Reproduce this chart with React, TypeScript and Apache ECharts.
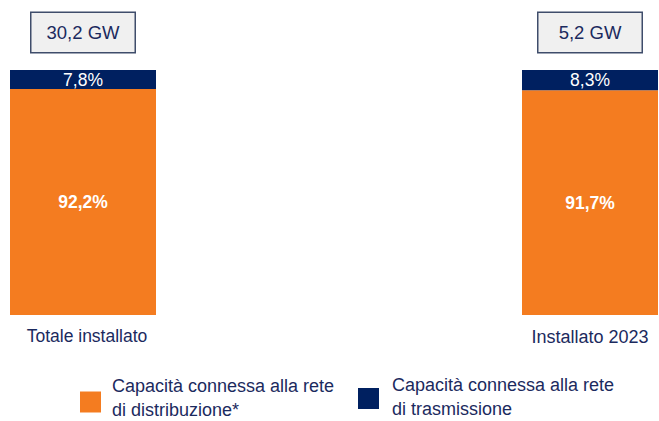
import React, { useEffect, useRef } from "react";
import * as echarts from "echarts";

const categories = ["Totale installato", "Installato 2023"];
const totals = ["30,2 GW", "5,2 GW"];
const distribuzione = [92.2, 91.7];
const trasmissione = [7.8, 8.3];
const seriesNames = [
  "Capacità connessa alla rete\ndi distribuzione*",
  "Capacità connessa alla rete\ndi trasmissione",
];

const ORANGE = "#F47C20";
const NAVY = "#002060";
const TEXT = "#1B2A5E";
const FONT = "'Liberation Sans', Arial, sans-serif";

const fmt = (v: number) => v.toFixed(1).replace(".", ",") + "%";

const legendFmt = (name: string) =>
  name
    .split("\n")
    .map((s) => `{a|${s}}`)
    .join("\n") + "\n{b| }";

export default function App() {
  const ref = useRef<HTMLDivElement>(null);
  useEffect(() => {
    if (!ref.current) return;
    const chart = echarts.init(ref.current, undefined, { renderer: "svg" });
    const grids = [
      { left: 10, width: 146, top: 70, height: 245 },
      { left: 522, width: 136, top: 70, height: 245 },
    ];
    const xAxis: any[] = [];
    const yAxis: any[] = [];
    const series: any[] = [];
    categories.forEach((cat, i) => {
      xAxis.push({
        type: "category",
        gridIndex: i,
        data: [cat],
        position: "bottom",
        axisLine: { show: false },
        axisTick: { show: false },
        axisLabel: {
          color: TEXT,
          fontSize: i === 0 ? 17.5 : 18,
          fontFamily: FONT,
          lineHeight: 20,
          margin: i === 0 ? 11 : 12,
          padding: i === 0 ? [0, 0, 0, 8] : 0,
        },
      });
      xAxis.push({
        type: "category",
        gridIndex: i,
        data: [totals[i]],
        position: "top",
        axisLine: { show: false },
        axisTick: { show: false },
        axisLabel: {
          color: TEXT,
          fontSize: 18.5,
          fontFamily: FONT,
          margin: 18,
          width: 103,
          height: 39,
          lineHeight: 39,
          align: "center",
          backgroundColor: "#F0F0F0",
          borderColor: "#3F4D6B",
          borderWidth: 1.5,
        },
      });
      yAxis.push({
        type: "value",
        gridIndex: i,
        min: 0,
        max: 100,
        show: false,
        splitLine: { show: false },
      });
      series.push({
        type: "bar",
        name: seriesNames[0],
        xAxisIndex: i * 2,
        yAxisIndex: i,
        stack: "s" + i,
        barWidth: "100%",
        data: [distribuzione[i]],
        itemStyle: { color: ORANGE },
        label: {
          show: true,
          position: "inside",
          color: "#fff",
          fontWeight: "bold",
          fontSize: 17.5,
          fontFamily: FONT,
          formatter: (p: any) => fmt(p.value),
        },
      });
      series.push({
        type: "bar",
        name: seriesNames[1],
        xAxisIndex: i * 2,
        yAxisIndex: i,
        stack: "s" + i,
        barWidth: "100%",
        data: [trasmissione[i]],
        itemStyle: { color: NAVY },
        label: {
          show: true,
          position: "inside",
          color: "#fff",
          fontSize: 17.5,
          fontFamily: FONT,
          formatter: (p: any) => fmt(p.value),
        },
      });
    });
    const legendText = (padLeft: number, tail: number) => ({
      color: TEXT,
      fontSize: 18,
      fontFamily: FONT,
      padding: [0, 0, 0, padLeft],
      rich: {
        a: { color: TEXT, fontSize: 18, lineHeight: 24, fontFamily: FONT },
        b: { fontSize: 1, lineHeight: tail },
      },
    });
    chart.setOption({
      animation: false,
      textStyle: { fontFamily: FONT },
      grid: grids,
      xAxis,
      yAxis,
      legend: [
        {
          data: [seriesNames[0]],
          left: 80,
          top: 376.5,
          padding: 0,
          icon: "rect",
          itemWidth: 21,
          itemHeight: 21,
          selectedMode: false,
          formatter: legendFmt,
          textStyle: legendText(6, 9),
        },
        {
          data: [seriesNames[1]],
          left: 358,
          top: 376,
          padding: 0,
          icon: "rect",
          itemWidth: 21,
          itemHeight: 21,
          selectedMode: false,
          formatter: legendFmt,
          textStyle: legendText(8, 3),
        },
      ],
      series,
    });
    return () => chart.dispose();
  }, []);
  return (
    <div
      ref={ref}
      style={{ position: "fixed", left: 0, top: 0, width: 659, height: 421, background: "#fff" }}
    />
  );
}
